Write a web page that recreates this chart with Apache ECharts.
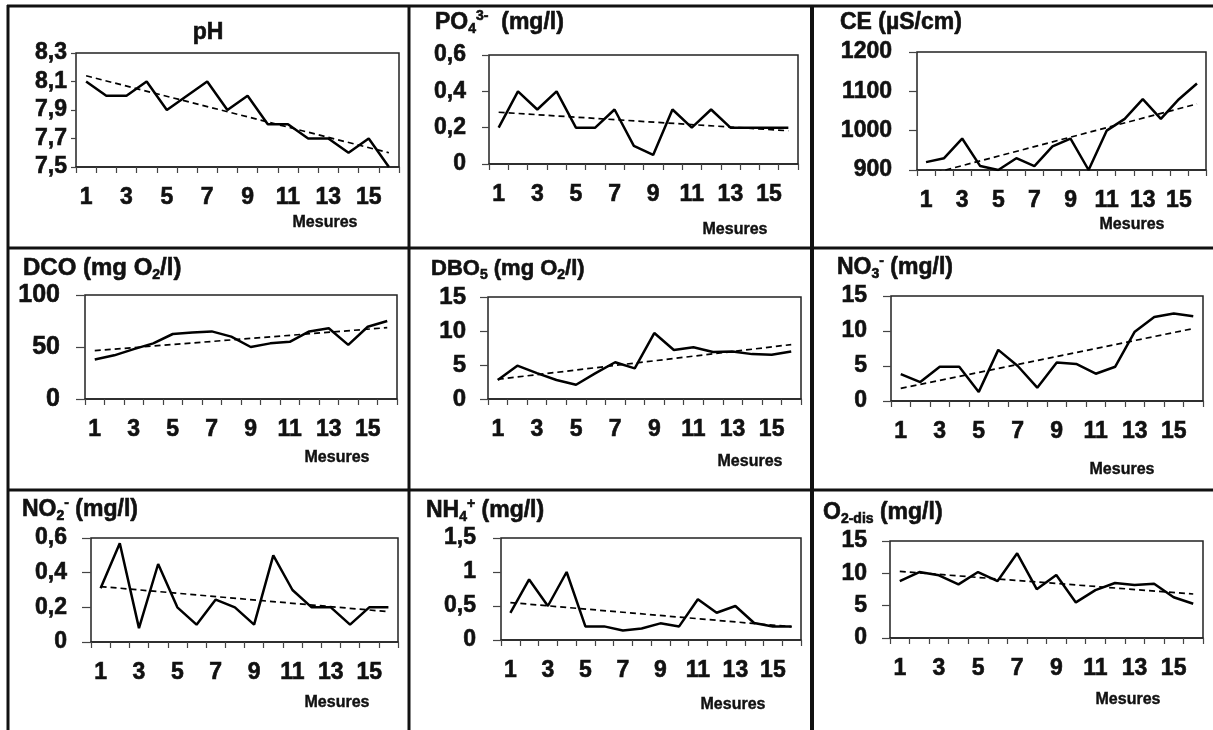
<!DOCTYPE html>
<html>
<head>
<meta charset="utf-8">
<script src="https://cdn.jsdelivr.net/npm/echarts@6/dist/echarts.min.js"></script>
<style>
html,body{margin:0;padding:0;background:#fff;}
#chart{width:1213px;height:730px;}
</style>
</head>
<body>
<div id="chart"></div>
<script>
// ---- data ----
const measures = ['1','2','3','4','5','6','7','8','9','10','11','12','13','14','15','16'];

const phValues   = [8.1, 8.0, 8.0, 8.1, 7.9, 8.0, 8.1, 7.9, 8.0, 7.8, 7.8, 7.7, 7.7, 7.6, 7.7, 7.5];
const phTrend    = [8.14, 7.6];
const phTicks    = [7.5, 7.7, 7.9, 8.1, 8.3];

const po4Values  = [0.2, 0.4, 0.3, 0.4, 0.2, 0.2, 0.3, 0.1, 0.05, 0.3, 0.2, 0.3, 0.2, 0.2, 0.2, 0.2];
const po4Trend   = [0.285, 0.183];
const po4Ticks   = [0, 0.2, 0.4, 0.6];

const ceValues   = [920, 930, 980, 910, 900, 930, 910, 960, 980, 900, 1000, 1030, 1080, 1030, 1080, 1120];
const ceTrend    = [887, 1068];
const ceTicks    = [900, 1000, 1100, 1200];

const dcoValues  = [38, 42, 48, 53.5, 62.5, 64, 65, 60, 50, 53.5, 55, 65, 68, 52, 69.5, 75];
const dcoTrend   = [46.5, 68.6];
const dcoTicks   = [0, 50, 100];

const dbo5Values = [2.8, 4.9, 3.8, 2.8, 2.1, 3.8, 5.4, 4.5, 9.7, 7.2, 7.6, 6.9, 7.0, 6.6, 6.5, 7.0];
const dbo5Trend  = [2.9, 8.0];
const dbo5Ticks  = [0, 5, 10, 15];

const no3Values  = [3.85, 2.7, 4.9, 4.9, 1.3, 7.3, 5.0, 1.9, 5.5, 5.3, 3.9, 4.9, 9.9, 12.0, 12.5, 12.1];
const no3Trend   = [1.8, 10.35];
const no3Ticks   = [0, 5, 10, 15];

const no2Values  = [0.31, 0.57, 0.08, 0.45, 0.2, 0.1, 0.245, 0.2, 0.1, 0.5, 0.3, 0.2, 0.2, 0.1, 0.2, 0.2];
const no2Trend   = [0.32, 0.175];
const no2Ticks   = [0, 0.2, 0.4, 0.6];

const nh4Values  = [0.4, 0.89, 0.5, 1.0, 0.2, 0.2, 0.14, 0.17, 0.245, 0.2, 0.6, 0.4, 0.5, 0.25, 0.2, 0.2];
const nh4Trend   = [0.55, 0.195];
const nh4Ticks   = [0, 0.5, 1, 1.5];

const o2Values   = [8.8, 10.2, 9.7, 8.3, 10.2, 8.8, 13.1, 7.55, 9.75, 5.5, 7.4, 8.5, 8.2, 8.4, 6.3, 5.3];
const o2Trend    = [10.3, 6.8];
const o2Ticks    = [0, 5, 10, 15];

const xLabel = 'Mesures';

// ---- layout ----
const FONT = '"Liberation Sans", Arial, sans-serif';
const INK = '#111';
const HEAVY = 0.6;

const panels = [
  {values: phValues,   trend: phTrend,   ticks: phTicks,   grid:{left:76, top:53, width:323, height:114}, yGap:9,  yTick:5, yFont:23, tSize:23,
   title:'{b|pH}', tx:208, ty:33, tAlign:'center', mx:325, my:223},
  {values: po4Values,  trend: po4Trend,  ticks: po4Ticks,  grid:{left:489, top:55, width:309, height:109}, yGap:23, yTick:7, yFont:23, tSize:23,
   title:'{b|PO}{sub|4}{sup|3-}{b|  (mg/l)}', tx:435, ty:23, tAlign:'left', mx:735, my:230},
  {values: ceValues,   trend: ceTrend,   ticks: ceTicks,   grid:{left:917, top:52, width:289, height:118}, yGap:25, yTick:8, yFont:23, tSize:23,
   title:'{b|CE (µS/cm)}', tx:840, ty:23, tAlign:'left', mx:1132, my:225},
  {values: dcoValues,  trend: dcoTrend,  ticks: dcoTicks,  grid:{left:85, top:295, width:312, height:104}, yGap:25, yTick:9, yFont:25, tSize:24,
   title:'{b|DCO (mg O}{sub|2}{b|/l)}', tx:23, ty:268, tAlign:'left', mx:337, my:458},
  {values: dbo5Values, trend: dbo5Trend, ticks: dbo5Ticks, grid:{left:488, top:297, width:313, height:102}, yGap:22, yTick:8, yFont:24, tSize:22,
   title:'{b|DBO}{sub|5}{b| (mg O}{sub|2}{b|/l)}', tx:431, ty:269, tAlign:'left', mx:750, my:462},
  {values: no3Values,  trend: no3Trend,  ticks: no3Ticks,  grid:{left:891, top:296, width:312, height:105}, yGap:24, yTick:8, yFont:23, tSize:23,
   title:'{b|NO}{sub|3}{sup|-}{b| (mg/l)}', tx:837, ty:268, tAlign:'left', mx:1122, my:470},
  {values: no2Values,  trend: no2Trend,  ticks: no2Ticks,  grid:{left:91, top:538, width:307, height:104}, yGap:24, yTick:9, yFont:23, tSize:23,
   title:'{b|NO}{sub|2}{sup|-}{b| (mg/l)}', tx:22, ty:510, tAlign:'left', mx:337, my:703},
  {values: nh4Values,  trend: nh4Trend,  ticks: nh4Ticks,  grid:{left:501, top:538, width:300, height:102}, yGap:25, yTick:8, yFont:23, tSize:23,
   title:'{b|NH}{sub|4}{sup|+}{b| (mg/l)}', tx:426, ty:511, tAlign:'left', mx:733, my:705},
  {values: o2Values,   trend: o2Trend,   ticks: o2Ticks,   grid:{left:890, top:541, width:313, height:97},  yGap:23, yTick:8, yFont:23, tSize:23,
   title:'{b|O}{sub|2-dis}{b| (mg/l)}', tx:823, ty:513, tAlign:'left', mx:1128, my:700}
];

function richFor(size) {
  const base = {fontFamily: FONT, fontWeight: 'bold', fill: INK, stroke: INK, lineWidth: HEAVY};
  return {
    b:   Object.assign({fontSize: size, lineHeight: size + 4, verticalAlign: 'middle'}, base),
    sub: Object.assign({fontSize: 14, lineHeight: 14, verticalAlign: 'bottom'}, base),
    sup: Object.assign({fontSize: 14, lineHeight: 14, verticalAlign: 'top'}, base)
  };
}

const fmt = v => String(v).replace('.', ',');

const option = {
  backgroundColor: '#fff',
  animation: false,
  grid: [], xAxis: [], yAxis: [], series: [], graphic: []
};

panels.forEach((p, i) => {
  option.grid.push(Object.assign({show: true, borderColor: '#222', borderWidth: 1.5, backgroundColor: 'transparent'}, p.grid));
  option.xAxis.push({
    type: 'category', gridIndex: i, data: measures, boundaryGap: true,
    axisLine: {show: true, lineStyle: {color: '#222', width: 1.5}},
    axisTick: {show: true, interval: 0, length: 6, lineStyle: {color: '#444', width: 1.2}},
    axisLabel: {interval: 1, margin: 19, color: INK, fontFamily: FONT, fontWeight: 'bold', fontSize: 23,
                textBorderColor: INK, textBorderWidth: HEAVY},
    splitLine: {show: false}
  });
  option.yAxis.push({
    type: 'value', gridIndex: i,
    min: p.ticks[0], max: p.ticks[p.ticks.length - 1],
    axisLine: {show: false},
    axisTick: {show: true, length: p.yTick, customValues: p.ticks, lineStyle: {color: '#444', width: 1.2}},
    axisLabel: {customValues: p.ticks, margin: p.yGap, formatter: fmt, color: INK, fontFamily: FONT, fontWeight: 'bold', fontSize: p.yFont,
                textBorderColor: INK, textBorderWidth: HEAVY},
    splitLine: {show: false}
  });
  option.series.push({
    type: 'line', xAxisIndex: i, yAxisIndex: i, data: p.values,
    showSymbol: false, symbol: 'none', smooth: false,
    lineStyle: {color: '#000', width: 2.5}, z: 3
  });
  option.series.push({
    type: 'line', xAxisIndex: i, yAxisIndex: i,
    data: [[measures[0], p.trend[0]], [measures[measures.length - 1], p.trend[1]]],
    showSymbol: false, symbol: 'none', clip: true,
    lineStyle: {color: '#000', width: 1.7, type: [6, 4]}, z: 2
  });
  option.graphic.push({
    type: 'text', x: p.tx, y: p.ty,
    style: {text: p.title, rich: richFor(p.tSize), align: p.tAlign, verticalAlign: 'middle'}
  });
  option.graphic.push({
    type: 'text', x: p.mx, y: p.my,
    style: {text: xLabel, fill: INK, stroke: INK, lineWidth: 0.4, font: 'bold 16px ' + FONT, align: 'center', verticalAlign: 'middle'}
  });
});

// panel frame lines
const frame = [
  [7, 6, 1213, 6, 3],
  [8, 5, 8, 730, 3],
  [7, 248, 1213, 248, 3],
  [7, 490, 1213, 490, 3],
  [409, 5, 409, 730, 3],
  [812, 5, 812, 730, 4]
];
frame.forEach(f => option.graphic.push({
  type: 'line', shape: {x1: f[0], y1: f[1], x2: f[2], y2: f[3]},
  style: {stroke: '#111', lineWidth: f[4]}, z: 10
}));

const chart = echarts.init(document.getElementById('chart'), null, {renderer: 'canvas'});
chart.setOption(option);
</script>
</body>
</html>
